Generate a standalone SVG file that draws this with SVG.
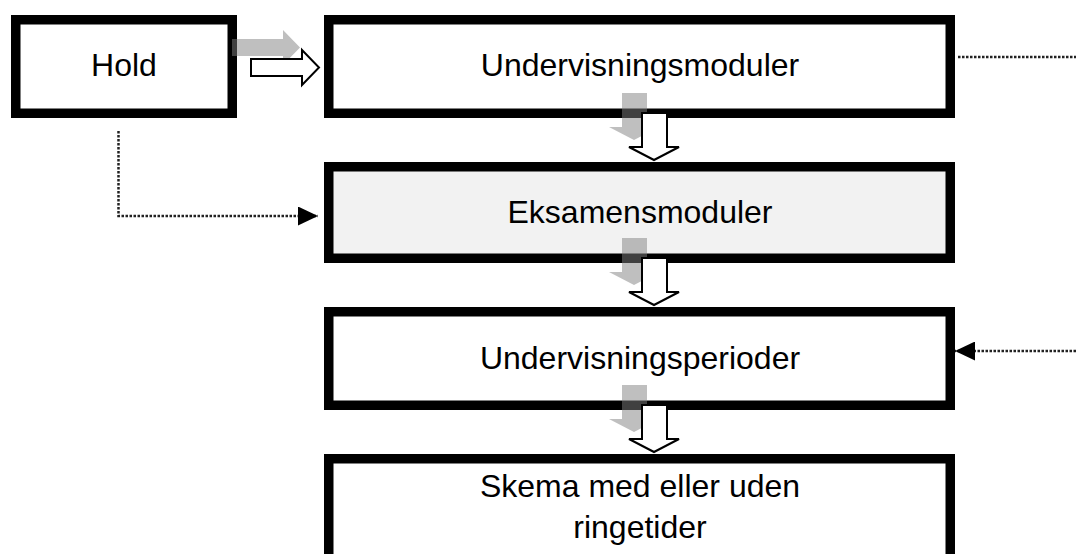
<svg xmlns="http://www.w3.org/2000/svg" width="1076" height="554" viewBox="0 0 1076 554">
<style>
.box{fill:#fff;stroke:#000;stroke-width:9.5}
.grey{fill:#f2f2f2}
.lbl{font-family:"Liberation Sans",Arial,sans-serif;font-size:32px;fill:#000;text-anchor:middle}
.shadow{fill:#808080;fill-opacity:0.5;stroke:none}
.blk{fill:#fff;stroke:#000;stroke-width:2;stroke-linejoin:miter}
.dot{fill:none;stroke:#222;stroke-width:2.5;stroke-dasharray:2.5 1.5}
</style>
<defs>
<marker id="tri" viewBox="0 0 20 19" refX="20" refY="9.5" markerWidth="20" markerHeight="19" markerUnits="userSpaceOnUse" orient="auto">
<path d="M0,0 L20,9.5 L0,19 Z" fill="#000"/>
</marker>
</defs>
<g id="node-hold">
<rect class="box" x="15.75" y="19.75" width="216.5" height="93.5"/>
<text class="lbl" x="124" y="76">Hold</text>
</g>
<g id="node-undervisningsmoduler">
<rect class="box" x="328.75" y="19.75" width="621.5" height="93.5"/>
<text class="lbl" x="640" y="76">Undervisningsmoduler</text>
</g>
<g id="node-eksamensmoduler">
<rect class="box grey" x="328.75" y="166.75" width="621.5" height="91.5"/>
<text class="lbl" x="640" y="223">Eksamensmoduler</text>
</g>
<g id="node-undervisningsperioder">
<rect class="box" x="328.75" y="311.75" width="621.5" height="93.5"/>
<text class="lbl" x="640" y="369">Undervisningsperioder</text>
</g>
<g id="node-skema">
<rect class="box" x="328.75" y="458.75" width="621.5" height="110"/>
<text class="lbl" x="640" y="497">Skema med eller uden</text>
<text class="lbl" x="640" y="538">ringetider</text>
</g>
<g id="connectors">
<polygon class="shadow" points="232,39 283,39 283,30 300,47.5 283,65 283,56 232,56"/>
<polygon class="blk" points="251,59 302,59 302,50 319,67.5 302,85 302,76 251,76"/>
<polygon class="shadow" points="622,93 647,93 647,127 659,127 634,140 609,127 622,127"/>
<polygon class="blk" points="642,113 667,113 667,147 679,147 654,160 629,147 642,147"/>
<polygon class="shadow" points="622,238 647,238 647,272 659,272 634,285 609,272 622,272"/>
<polygon class="blk" points="642,258 667,258 667,292 679,292 654,305 629,292 642,292"/>
<polygon class="shadow" points="622,385 647,385 647,419 659,419 634,432 609,419 622,419"/>
<polygon class="blk" points="642,405 667,405 667,439 679,439 654,452 629,439 642,439"/>
<polyline class="dot" points="118.5,131 118.5,216 318,216" marker-end="url(#tri)"/>
<line class="dot" x1="958" y1="57" x2="1076" y2="57"/>
<line class="dot" x1="1076" y1="351" x2="955" y2="351" marker-end="url(#tri)"/>
</g>
</svg>
